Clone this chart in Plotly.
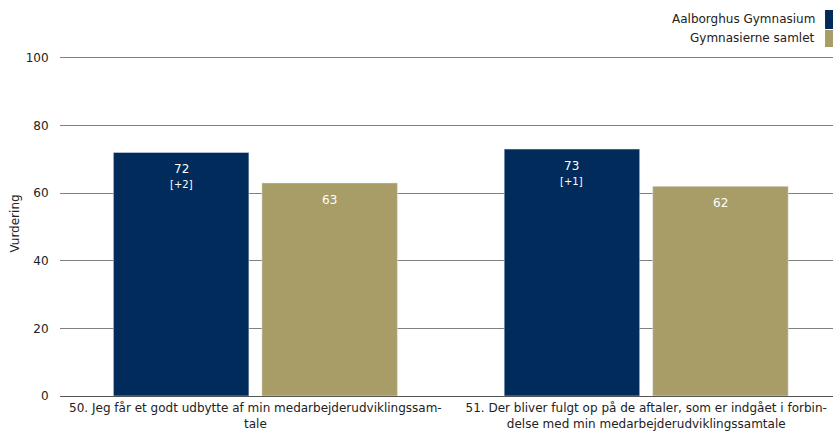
import plotly.graph_objects as go

categories = [
    "50. Jeg får et godt udbytte af min medarbejderudviklingssam-<br>tale",
    "51. Der bliver fulgt op på de aftaler, som er indgået i forbin-<br>delse med min medarbejderudviklingssamtale",
]
series_names = ["Aalborghus Gymnasium", "Gymnasierne samlet"]
school_values = [72, 73]
school_diff = ["+2", "+1"]
all_values = [63, 62]
y_ticks = [0, 20, 40, 60, 80, 100]

navy = "#002B5A"
tan = "#A89D66"
font = "DejaVu Sans"
bargap = 0.24

fig = go.Figure()
fig.add_trace(go.Bar(x=categories, y=school_values, name=series_names[0], marker_color=navy,
                     showlegend=False, hoverinfo="x+y"))
fig.add_trace(go.Bar(x=categories, y=all_values, name=series_names[1], marker_color=tan,
                     showlegend=False, hoverinfo="x+y"))

# value labels inside the bars, at the bar top (positioned through the data scales)
slot = (1 - bargap) / 2
for k, vals in enumerate([school_values, all_values]):
    for i, v in enumerate(vals):
        xc = i + (k - 0.5) * slot
        fig.add_annotation(x=xc, y=v, text=str(v), showarrow=False, yanchor="middle", yshift=-17,
                           font=dict(family=font, size=12, color="white"))
        if k == 0:
            fig.add_annotation(x=xc, y=v, text=f"[{school_diff[i]}]", showarrow=False, yanchor="middle",
                               yshift=-32, font=dict(family=font, size=10, color="white"))

# custom legend (text left of swatch, right aligned)
legend_items = [(series_names[0], navy, 1.0928, 1.1188, 1.0638),
                (series_names[1], tan, 1.0377, 1.0609, 1.0116)]
for name, col, ty, y1, y0 in legend_items:
    fig.add_annotation(xref="paper", yref="paper", x=0.9793, y=ty, text=name, showarrow=False,
                       xanchor="right", yanchor="middle", font=dict(family=font, size=12, color="#222"))
    fig.add_shape(type="rect", xref="paper", yref="paper", x0=0.9897, x1=1.03, y0=y0, y1=y1,
                  fillcolor=col, line_width=0)

fig.update_layout(
    width=833, height=431,
    margin=dict(l=60, r=0, t=51, b=35),
    paper_bgcolor="white", plot_bgcolor="white",
    barmode="group", bargap=bargap, bargroupgap=0.0875,
    font=dict(family=font, size=12, color="#222"),
)
fig.update_xaxes(range=[-0.5, 1.478], showgrid=False, tickfont=dict(size=12, color="#222"),
                 ticks="outside", ticklen=1, tickcolor="rgba(0,0,0,0)", showline=False)
fig.update_yaxes(range=[0, 102], tickvals=y_ticks, showgrid=True, gridcolor="#808080", gridwidth=1,
                 zeroline=True, zerolinecolor="#555", zerolinewidth=1,
                 title=dict(text="Vurdering", font=dict(size=12, color="#222"), standoff=3),
                 tickfont=dict(size=12, color="#222"), ticks="outside", ticklen=8,
                 tickcolor="rgba(0,0,0,0)")

fig.write_html("out.html", config={"displayModeBar": False},
               post_script="document.body.style.margin='0';document.body.style.overflow='hidden';")
